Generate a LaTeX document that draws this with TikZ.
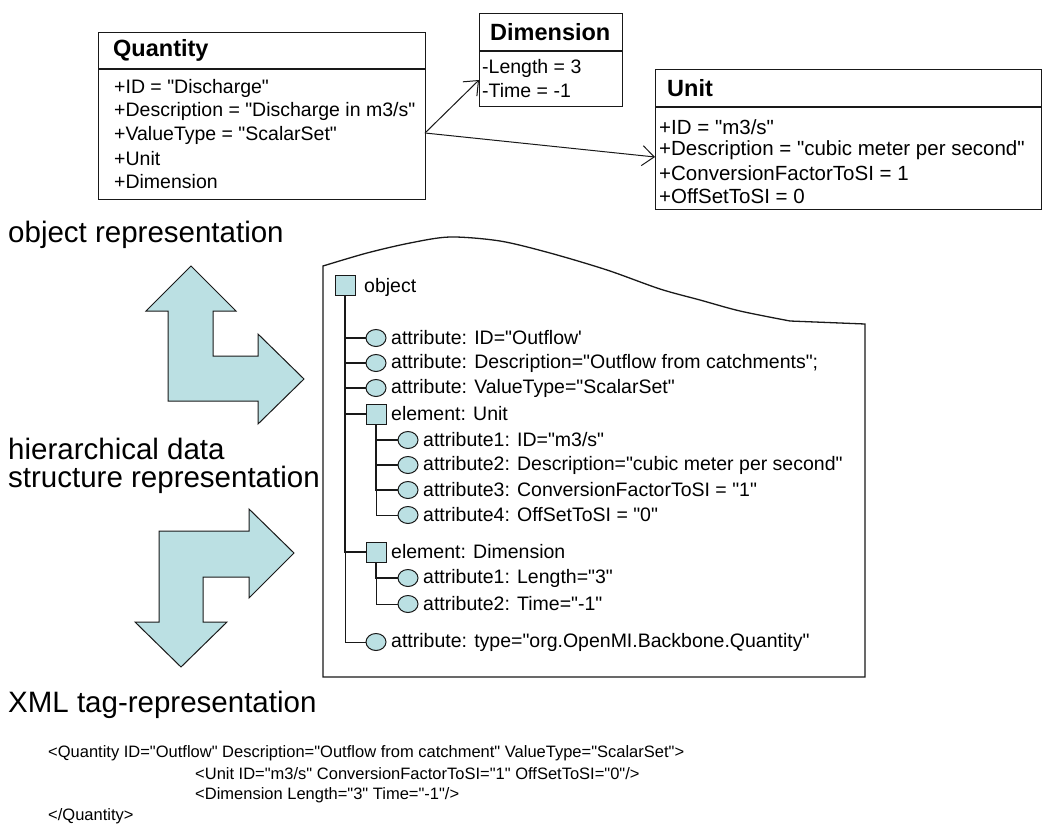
\documentclass[tikz,border=0pt]{standalone}
\usepackage{fontspec}
\setmainfont{Liberation Sans}[Ligatures=TeXOff]
\usetikzlibrary{arrows.meta,shapes.geometric}
\definecolor{fillc}{RGB}{187,224,227}
\definecolor{linec}{RGB}{25,25,25}
\begin{document}
\begin{tikzpicture}[x=1pt,y=-1pt,
  umlbox/.style={draw=linec, line width=1.3pt, anchor=north west, inner sep=0},
  ttl/.style={anchor=west, font=\fontsize{23.5}{26}\selectfont\bfseries, inner sep=0},
  txt/.style={anchor=west, font=\fontsize{19.5}{22}\selectfont, inner sep=0},
  utxt/.style={anchor=west, font=\fontsize{20.5}{24}\selectfont, inner sep=0},
  big/.style={anchor=west, font=\fontsize{29.5}{28}\selectfont, inner sep=0, align=left},
  xml/.style={anchor=west, font=\fontsize{16.5}{20}\selectfont, inner sep=0},
  sq/.style={draw=linec, fill=fillc, line width=1pt, minimum width=20, minimum height=20, inner sep=0},
  ci/.style={draw=linec, fill=fillc, line width=1pt, ellipse, minimum width=20, minimum height=17, inner sep=0},
  conn/.style={draw=linec, line width=1pt},
  connb/.style={draw=linec, line width=1.8pt},
  assoc/.style={draw=linec, line width=1pt, -{Straight Barb[length=12, width=20]}},
  bigarrow/.style={draw=linec, fill=fillc, line width=1pt, line join=miter},
  treebox/.style={draw=linec, line width=1.3pt},
]
\useasboundingbox (0,0) rectangle (1044,830);

% ---------- UML boxes ----------
\node[umlbox, minimum width=327, minimum height=167] (quantity) at (98,32) {};
\draw[umlbox] (98,69) -- (425,69);
\node[ttl] (qt) at (113,50) {Quantity};
\node[txt] (q1) at (114,88) {+ID = "Discharge"};
\node[txt] (q2) at (114,111.5) {+Description = "Discharge in m3/s"};
\node[txt] (q3) at (114,135) {+ValueType = "ScalarSet"};
\node[txt] (q4) at (114,158.5) {+Unit};
\node[txt] (q5) at (114,182) {+Dimension};

\node[umlbox, minimum width=143, minimum height=93] (dimension) at (479,13) {};
\draw[umlbox] (479,51) -- (622,51);
\node[ttl] (dt) at (490,32) {Dimension};
\node[txt] (d1) at (482,68) {-Length = 3};
\node[txt] (d2) at (482,91) {-Time = -1};

\node[umlbox, minimum width=386, minimum height=140] (unit) at (655,69) {};
\draw[umlbox] (655,107) -- (1041,107);
\node[ttl] (ut) at (667,88) {Unit};
\node[utxt] (u1) at (659,127) {+ID = "m3/s"};
\node[utxt] (u2) at (659,150) {+Description = "cubic meter per second"};
\node[utxt] (u3) at (659,173) {+ConversionFactorToSI = 1};
\node[utxt] (u4) at (659,196) {+OffSetToSI = 0};

\coordinate (qa) at (425,133);
\coordinate (din) at (479,80);
\coordinate (uin) at (655,157);
\draw[assoc] (qa) -- (din);
\draw[assoc] (qa) -- (uin);

% ---------- labels ----------
\node[big] (lobj) at (8,235) {object representation};
\node[big, anchor=north west] (lhier) at (8,438) {hierarchical data\\structure representation};
\node[big] (lxml) at (8,705) {XML tag-representation};

% ---------- big arrows ----------
\draw[bigarrow] (191,266) -- (236,311) -- (213,311) -- (213,356) -- (258,356) -- (258,334)
  -- (304,379) -- (258,424) -- (258,401) -- (168,401) -- (168,311) -- (146,311) -- cycle;
\draw[bigarrow] (249,509) -- (294,553) -- (249,598) -- (249,577) -- (203,577) -- (203,622)
  -- (227,622) -- (181,667) -- (135,622) -- (159,622) -- (159,531) -- (249,531) -- cycle;

% ---------- tree box ----------
\draw[treebox] plot[smooth, tension=0.5] coordinates {(323,266) (367,253) (410,243) (450,237) (500,241) (550,253) (607,270) (660,289) (700,300) (740,311) (790,321)}
  -- (865,324) -- (865,677) -- (323,677) -- cycle;

% ---------- tree ----------
\node[sq] (obj) at (345,285) {};
\node[txt] (tobj) at (364,287) {object};

\node[ci] (a1) at (376,338) {};
\node[ci] (a2) at (376,363) {};
\node[ci] (a3) at (376,388) {};
\node[sq] (eu) at (376,414) {};
\node[ci] (u1c) at (408,440) {};
\node[ci] (u2c) at (408,465) {};
\node[ci] (u3c) at (408,490) {};
\node[ci] (u4c) at (408,515) {};
\node[sq] (ed) at (376,552) {};
\node[ci] (d1c) at (408,578) {};
\node[ci] (d2c) at (408,604) {};
\node[ci] (at) at (376,642) {};

\draw[connb] (obj.south) |- (a1.west);
\draw[connb] (obj.south) |- (a2.west);
\draw[connb] (obj.south) |- (a3.west);
\draw[connb] (obj.south) |- (eu.west);
\draw[connb] (obj.south) |- (ed.west);
\draw[conn] (obj.south) |- (at.west);
\draw[connb] (eu.south) |- (u1c.west);
\draw[connb] (eu.south) |- (u2c.west);
\draw[connb] (eu.south) |- (u3c.west);
\draw[conn] (eu.south) |- (u4c.west);
\draw[connb] (ed.south) |- (d1c.west);
\draw[conn] (ed.south) |- (d2c.west);

\node[txt] (ta1) at (391,338) {attribute: ID="Outflow'};
\node[txt] (ta2) at (391,363) {attribute: Description="Outflow from catchments";};
\node[txt] (ta3) at (391,388) {attribute: ValueType="ScalarSet"};
\node[txt] (teu) at (391,414) {element: Unit};
\node[txt] (tu1) at (423,440) {attribute1: ID="m3/s"};
\node[txt] (tu2) at (423,465) {attribute2: Description="cubic meter per second"};
\node[txt] (tu3) at (423,490) {attribute3: ConversionFactorToSI = "1"};
\node[txt] (tu4) at (423,515) {attribute4: OffSetToSI = "0"};
\node[txt] (ted) at (391,552) {element: Dimension};
\node[txt] (td1) at (423,578) {attribute1: Length="3"};
\node[txt] (td2) at (423,604) {attribute2: Time="-1"};
\node[txt] (tat) at (391,642) {attribute: type="org.OpenMI.Backbone.Quantity"};

% ---------- XML ----------
\node[xml] (x1) at (48,753) {<Quantity ID="Outflow" Description="Outflow from catchment" ValueType="ScalarSet">};
\node[xml] (x2) at (195,774) {<Unit ID="m3/s" ConversionFactorToSI="1" OffSetToSI="0"/>};
\node[xml] (x3) at (195,795) {<Dimension Length="3" Time="-1"/>};
\node[xml] (x4) at (48,816) {</Quantity>};
\end{tikzpicture}
\end{document}
